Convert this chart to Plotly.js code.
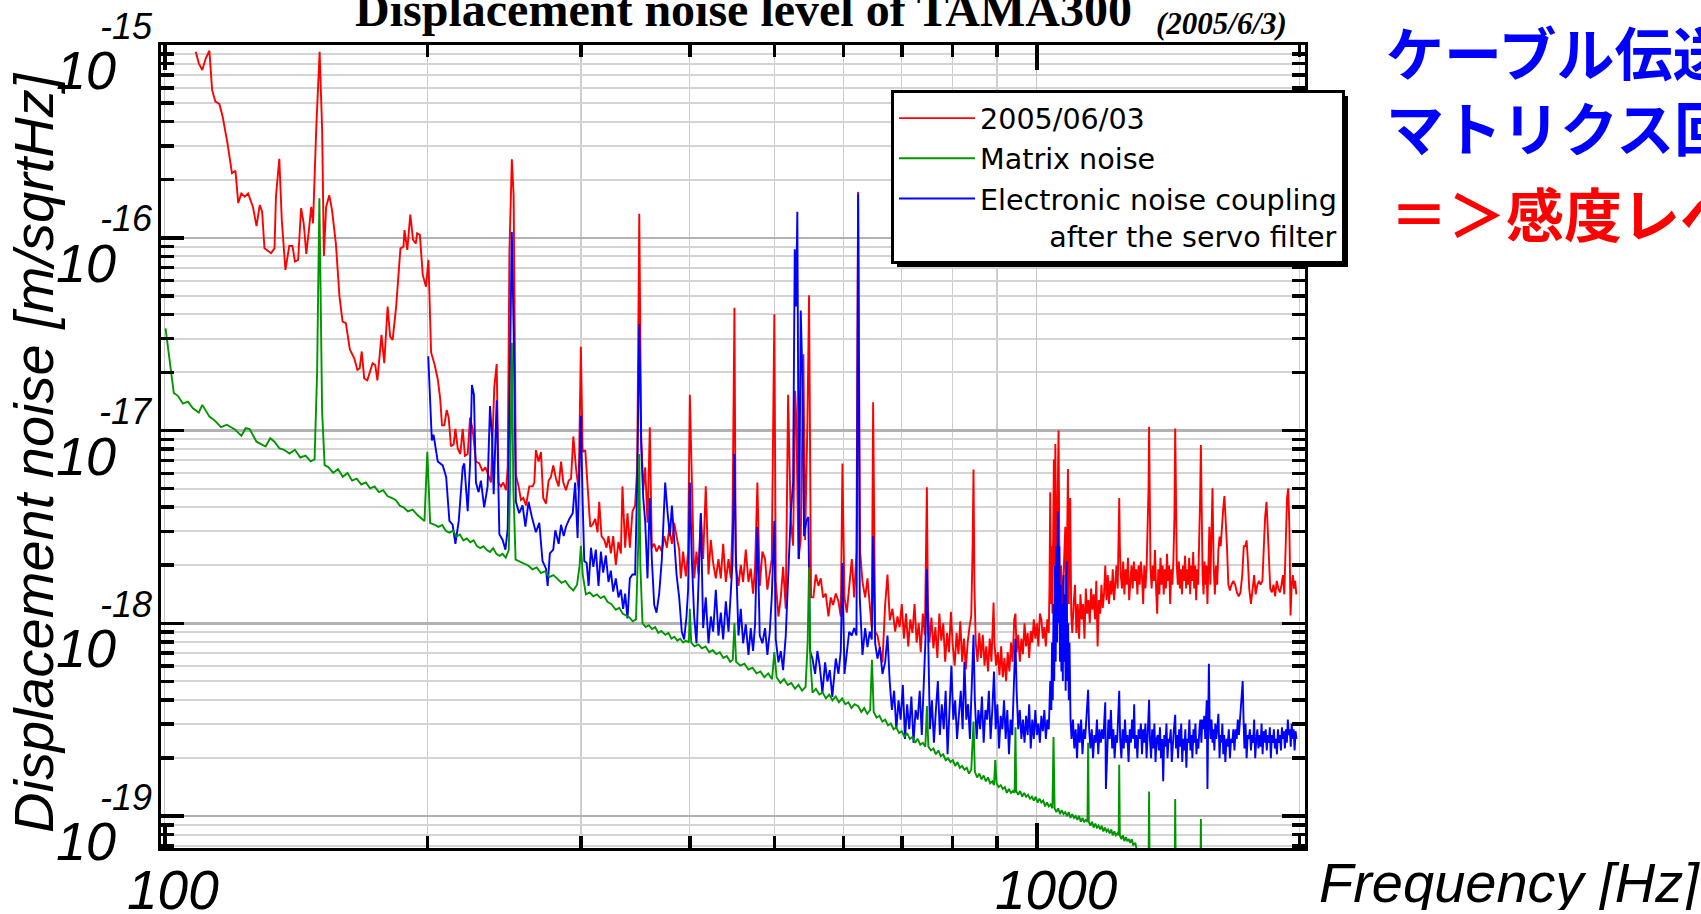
<!DOCTYPE html>
<html>
<head>
<meta charset="utf-8">
<script src="https://cdn.plot.ly/plotly-3.0.1.min.js"></script>
<style>
html,body{margin:0;padding:0;background:#ffffff;}
#chart{width:1701px;height:914px;}
</style>
</head>
<body>
<div id="chart"></div>
<script>
// ---------------- DATA (frequency [Hz], log10 of displacement noise [m/sqrtHz]) ----------------
const seriesNames = ["2005/06/03", "Matrix noise", "Electronic noise coupling"];

const redLow = [[108.5,-15.035],[109.4,-15.095],[110.4,-15.13],[111.4,-15.07],[112.5,-15.03],[113.3,-15.233],[114.3,-15.294],[115.5,-15.306],[116.5,-15.372],[118.0,-15.51],
[119.4,-15.665],[120.5,-15.652],[121.4,-15.82],[122.4,-15.77],[123.5,-15.787],[124.6,-15.77],[126.2,-15.84],[127.4,-15.94],[128.5,-15.83],[129.3,-15.865],
[130.1,-16.055],[132.4,-16.08],[133.6,-16.055],[134.1,-15.787],[135.3,-15.59],[136.2,-15.91],[137.5,-16.167],[138.9,-16.043],[140.1,-16.043],[141.0,-16.124],
[142.2,-16.115],[143.3,-15.847],[144.3,-15.925],[145.3,-16.084],[146.3,-15.96],[147.2,-15.84],[147.9,-15.925],[149.2,-15.42],[150.5,-15.035],[151.5,-15.44],
[152.2,-16.094],[153.1,-15.84],[154.4,-15.78],[155.5,-15.856],[157.1,-16.03],[158.6,-16.305],[159.9,-16.435],[161.3,-16.443],[163.0,-16.58],[164.9,-16.625],
[166.3,-16.686],[167.3,-16.677],[168.2,-16.59],[169.3,-16.73],[170.7,-16.74],[173.1,-16.651],[174.3,-16.66],[175.3,-16.74],[177.2,-16.504],[178.5,-16.651],
[180.1,-16.357],[181.3,-16.513],[182.5,-16.53],[184.2,-16.357],[186.3,-16.055],[187.8,-16.046],[188.3,-15.96],[189.7,-16.063],[191.2,-15.88],[192.6,-16.01],
[194.0,-16.03],[194.7,-15.977],[196.1,-15.985],[197.6,-16.193],[199.3,-16.254],[200.6,-16.115]];

const redMid = [[202.0,-16.595],[203.8,-16.655],[205.6,-16.734],[206.9,-16.834],[207.9,-16.973],[209.2,-16.973],[210.5,-16.893],[211.6,-16.933],[212.9,-17.082],[214.4,-17.072],
[215.4,-16.992],[216.7,-17.092],[218.2,-17.122],[219.6,-16.992],[220.9,-17.131],[222.5,-17.122],[223.9,-16.933],[225.4,-16.992],[227.4,-17.161],[229.4,-17.171],
[231.4,-17.211],[233.1,-17.191],[234.5,-17.221],[236.6,-17.27],[238.7,-16.774],[240.2,-16.655],[241.4,-17.27],[242.9,-17.29],[244.4,-17.27],[246.2,-17.31],
[247.3,-17.191],[248.4,-16.079],[250.0,-15.593],[251.2,-15.782],[252.7,-17.231],[254.5,-17.29],[256.1,-17.36],[257.7,-17.35],[259.5,-17.389],[261.8,-17.29],
[264.1,-17.29],[265.3,-17.27],[266.4,-17.102],[268.3,-17.161],[270.0,-17.112],[271.6,-17.35],[273.6,-17.379],[275.5,-17.26],[277.2,-17.241],[278.9,-17.181],
[280.9,-17.25],[282.9,-17.29],[284.7,-17.161],[286.4,-17.27],[288.4,-17.31],[290.5,-17.26],[292.3,-17.25],[294.1,-17.032],[296.1,-17.191],[298.2,-17.31],
[300.0,-16.566],[301.4,-17.112],[303.5,-17.102],[305.4,-17.27],[307.5,-17.499],[309.4,-17.489],[311.6,-17.459],[313.5,-17.528],[314.9,-17.37],[316.8,-17.548],
[319.1,-17.568],[321.0,-17.608],[322.7,-17.548],[324.7,-17.638],[326.7,-17.548],[329.0,-17.697],[331.3,-17.578],[333.4,-17.638],[334.8,-17.29],[337.2,-17.608],
[339.3,-17.429],[341.4,-17.608],[343.8,-17.419],[346.2,-17.389],[348.1,-17.191],[350.0,-15.875],[351.8,-17.032],[353.7,-17.31],[355.5,-17.191],[357.7,-17.479],
[359.9,-16.983],[361.8,-17.608],[364.1,-17.588],[366.3,-17.628],[368.9,-17.598],[371.5,-17.628],[373.8,-17.548],[376.5,-17.608],[378.8,-17.509],[381.5,-17.588],
[383.8,-17.479],[386.2,-17.548],[388.9,-17.618],[390.6,-17.767],[393.0,-17.628],[395.8,-17.757],[398.2,-17.628],[400.0,-16.814],[402.1,-17.27],[404.6,-17.767],
[407.1,-17.628],[409.2,-17.747],[411.8,-17.429],[414.3,-17.667],[417.2,-17.29],[420.2,-17.747],[422.8,-17.568],[425.4,-17.687],[428.4,-17.767],[431.4,-17.667],
[434.1,-17.767],[436.8,-17.588],[439.9,-17.786],[443.0,-17.667],[445.7,-17.767],[447.7,-17.469],[450.0,-16.363],[451.6,-17.707],[454.8,-17.806],[457.6,-17.697],
[460.4,-17.786],[463.7,-17.618],[467.0,-17.786],[469.8,-17.717],[472.7,-17.846],[475.2,-17.707],[478.1,-17.27],[481.1,-17.806],[484.5,-17.628],[487.9,-17.667],
[490.9,-17.826],[494.0,-17.747],[496.6,-17.667],[500.0,-16.397],[501.9,-17.786],[505.4,-17.965],[508.6,-17.866],[511.7,-17.707],[515.3,-17.925],[518.5,-16.814],
[522.2,-17.469],[525.4,-17.598],[528.2,-16.794],[530.0,-16.953],[532.8,-17.667],[536.1,-17.568],[539.9,-16.605],[542.3,-17.568],[545.6,-16.973],[548.0,-16.298],
[550.9,-17.866],[554.3,-17.866],[557.8,-17.747],[561.7,-17.806],[565.2,-17.767],[568.7,-17.866],[572.7,-17.846],[576.8,-17.965],[580.3,-17.866],[583.9,-17.905],
[588.1,-17.846],[592.2,-17.886],[595.9,-17.965],[598.5,-17.171],[601.7,-17.866],[605.4,-17.945],[609.2,-17.806],[613.5,-17.667],[617.3,-17.866],[621.1,-17.628],
[623.8,-15.762],[627.1,-17.628],[631.0,-17.786],[635.5,-17.866],[639.4,-17.767],[643.3,-17.925],[646.7,-18.025],[649.0,-16.853],[652.5,-18.044],[656.5,-18.064],
[660.6,-18.124],[665.2,-18.203],[669.9,-17.905],[674.1,-17.747],[678.2,-17.985],[683.0,-17.925],[687.9,-18.044],[692.1,-17.965]];

const redHigh = [[696,-18.02],[700,-17.9],[704,-18.08],[708,-17.95],[712,-18.12],[716,-17.98],[720,-18.05],[724,-17.9],[728,-18.1],[732,-18.0],
[736,-18.15],[740,-17.95],[744,-18.06],[746,-17.7],[748,-17.295],[750,-17.9],[753,-18.1],[757,-17.97],[761,-18.13],[765,-18.02],
[769,-18.18],[773,-17.95],[777,-18.09],[781,-18.0],[785,-18.2],[789,-18.05],[793,-18.15],[797,-17.94],[801,-18.12],[805,-18.22],
[809,-18.05],[813,-18.16],[817,-17.99],[821,-18.2],[825,-18.08],[829,-18.24],[833,-18.1],[837,-18.02],[841,-17.96],[844,-17.6],
[846,-17.202],[848,-17.8],[851,-18.1],[855,-18.2],[859,-18.05],[863,-18.18],[867,-18.06],[871,-18.22],[875,-18.12],[879,-18.25],
[883,-18.08],[887,-18.2],[890,-17.95],[892,-17.893],[894,-18.1],[898,-18.22],[902,-18.15],[906,-18.27],[910,-18.12],[914,-18.28],
[918,-18.18],[922,-18.3],[926,-18.15],[930,-18.25],[934,-18.1],[938,-18.2],[942,-17.98],[945,-17.95],[948,-18.15],[952,-18.06],
[956,-18.2],[960,-18.08],[964,-18.16],[968,-18.0],[972,-18.12],[976,-18.05],[980,-18.18],[984,-18.04],[988,-18.1],[992,-17.98],
[996,-18.08],[1000,-18.0],[1004,-18.12],[1008,-17.95],[1012,-17.98],[1016,-18.08],[1020,-18.02],[1024,-18.12],[1028,-17.98],[1032,-18.05],
[1034,-17.8],[1036,-17.32],[1038,-17.9],[1040,-17.6],[1042,-17.95],[1044,-17.5],[1046,-17.15],[1048,-17.7],[1050,-17.07],[1052,-17.6],
[1054,-17.85],[1056,-17.4],[1059,-17.0],[1061,-17.55],[1063,-17.9],[1066,-17.7],[1069,-17.95],[1072,-17.8],[1075,-17.6],[1078,-17.5],
[1080,-17.85],[1083,-17.6],[1085.6,-17.2],[1088,-17.9],[1090,-17.5],[1092,-17.35],[1095,-17.95],[1098,-18.05],[1102,-17.9],[1106,-17.8],
[1110,-18.05],[1114,-17.9],[1118,-18.08],[1122,-17.85],[1126,-17.98],[1130,-17.9],[1134,-18.08],[1138,-17.82],[1142,-17.95],[1146,-17.88],
[1150,-18.0],[1154,-17.82],[1158,-17.93],[1162,-17.85],[1166,-17.98],[1170,-17.78],[1174,-18.12],[1178,-17.88],[1182,-17.95],[1186,-17.8],
[1190,-17.92],[1194,-17.85],[1198,-17.7],[1202,-17.88],[1206,-17.75],[1210,-17.9],[1214,-17.78],[1218,-17.85],[1222,-17.72],[1226,-17.88],
[1230,-17.8],[1234,-17.7],[1238,-17.82],[1241,-17.6],[1243,-17.35],[1245,-17.6],[1248,-17.75],[1252,-17.82],[1256,-17.68],[1260,-17.85],
[1264,-17.72],[1268,-17.8],[1272,-17.66],[1276,-17.88],[1280,-17.75],[1284,-17.7],[1288,-17.82],[1292,-17.68],[1296,-17.78],[1300,-17.72],
[1304,-17.85],[1308,-17.7],[1312,-17.8],[1316,-17.68],[1320,-17.76],[1324,-17.9],[1328,-17.7],[1332,-17.82],[1336,-17.72],[1340,-17.5],
[1343,-17.3],[1345,-16.98],[1347,-17.35],[1350,-17.72],[1354,-17.82],[1358,-17.7],[1362,-17.78],[1366,-17.62],[1370,-17.82],[1374,-17.95],
[1378,-17.72],[1382,-17.85],[1386,-17.66],[1390,-17.8],[1394,-17.7],[1398,-17.85],[1402,-17.72],[1406,-17.82],[1410,-17.64],[1414,-17.78],
[1418,-17.7],[1422,-17.9],[1426,-17.72],[1430,-17.8],[1434,-17.68],[1438,-17.45],[1441,-16.99],[1444,-17.4],[1447,-17.7],[1451,-17.8],
[1455,-17.68],[1459,-17.82],[1463,-17.72],[1467,-17.85],[1471,-17.7],[1475,-17.78],[1479,-17.65],[1483,-17.82],[1487,-17.72],[1491,-17.8],
[1495,-17.66],[1499,-17.85],[1503,-17.7],[1507,-17.78],[1511,-17.63],[1515,-17.82],[1519,-17.7],[1523,-17.88],[1527,-17.72],[1531,-17.8],
[1535,-17.6],[1539,-17.35],[1542,-17.075],[1545,-17.45],[1549,-17.75],[1553,-17.85],[1557,-17.68],[1561,-17.8],[1565,-17.7],[1569,-17.9],
[1573,-17.75],[1577,-17.5],[1581,-17.8],[1585,-17.55],[1590,-17.3],[1595,-17.7],[1600,-17.85],[1605,-17.7],[1610,-17.8],[1615,-17.62],
[1620,-17.55],[1625,-17.6],[1630,-17.48],[1636,-17.4],[1641,-17.34],[1646,-17.45],[1652,-17.6],[1658,-17.8],[1665,-17.83],[1672,-17.8],
[1680,-17.78],[1688,-17.8],[1696,-17.84],[1704,-17.86],[1712,-17.84],[1720,-17.75],[1727,-17.6],[1734,-17.6],[1740,-17.57],[1746,-17.68],
[1752,-17.82],[1760,-17.9],[1768,-17.82],[1775,-17.75],[1782,-17.85],[1790,-17.8],[1798,-17.78],[1806,-17.8],[1814,-17.78],[1820,-17.6],
[1827,-17.45],[1834,-17.37],[1840,-17.5],[1846,-17.7],[1852,-17.82],[1860,-17.84],[1868,-17.8],[1876,-17.86],[1884,-17.78],[1892,-17.82],
[1900,-17.84],[1908,-17.8],[1915,-17.75],[1922,-17.85],[1930,-17.6],[1936,-17.35],[1942,-17.3],[1948,-17.5],[1954,-17.96],[1960,-17.8],
[1966,-17.75],[1972,-17.82],[1978,-17.78],[1984,-17.85]];

const greenLow = [[100.2,-16.47],[101.7,-16.686],[102.4,-16.805],[103.5,-16.82],[104.9,-16.86],[106.3,-16.85],[107.7,-16.885],[109.4,-16.907],[110.4,-16.867],[112.5,-16.928],
[113.9,-16.945],[116.0,-16.983],[117.8,-16.97],[120.2,-16.993],[122.4,-17.027],[123.8,-16.988],[125.1,-16.993],[127.4,-17.058],[130.5,-17.083],[132.1,-17.04],
[133.6,-17.058],[135.3,-17.092],[137,-17.1],[139,-17.12],[141,-17.1],[143,-17.14],[145,-17.13],[147,-17.16],[148.5,-17.15],[149.5,-16.7],
[150.4,-15.795],[151.5,-16.9],[152.5,-17.18],[154,-17.19],[156,-17.22],[158,-17.2],[160,-17.24],[162,-17.22],[164,-17.26],[166,-17.25],
[168,-17.28],[170,-17.27],[172,-17.3],[174,-17.29],[176,-17.32],[178,-17.31],[180,-17.34],[182,-17.35],[184,-17.36],[186,-17.39],
[188,-17.4],[190,-17.42],[192.4,-17.41],[195,-17.44],[198.5,-17.47],[200,-17.11],[201.5,-17.48]];

const greenMid = [[204,-17.49],[206,-17.5],[208,-17.49],[210,-17.52],[212,-17.53],[214,-17.52],[216,-17.55],[218,-17.54],[220,-17.57],[222,-17.56],
[224,-17.58],[226,-17.57],[228,-17.6],[230,-17.61],[232,-17.6],[234,-17.62],[236,-17.63],[238,-17.61],[240,-17.64],[242,-17.65],
[244,-17.64],[246,-17.66],[248,-17.62],[249,-17.2],[250,-16.545],[251,-17.3],[252.5,-17.67],[255,-17.68],[258,-17.69],[261,-17.7],
[264,-17.72],[267,-17.71],[270,-17.74],[273,-17.73],[276,-17.76],[279,-17.75],[282,-17.77],[285,-17.79],[288,-17.78],[291,-17.81],
[294,-17.83],[297,-17.8],[299,-17.7],[300,-17.598],[301.5,-17.75],[304,-17.85],[307,-17.84],[310,-17.86],[313,-17.85],[316,-17.87],
[319,-17.86],[322,-17.89],[325,-17.9],[329,-17.93],[332,-17.92],[335,-17.95],[338,-17.96],[341,-17.97],[344,-17.99],[347,-17.98],
[349,-17.6],[350,-17.122],[351,-17.7],[353,-18.0],[356,-18.02],[359,-18.01],[362,-18.03],[365,-18.02],[368,-18.05],[371,-18.04],
[375,-18.06],[378,-18.05],[381,-18.08],[384,-18.07],[387,-18.09],[390,-18.08],[393,-18.1],[396,-18.09],[399,-18.1],[400,-17.925],
[401.5,-18.1],[405,-18.12],[409,-18.11],[413,-18.13],[417,-18.12],[421,-18.15],[425,-18.14],[429,-18.16],[433,-18.15],[437,-18.18],
[441,-18.17],[445,-18.2],[448,-18.19],[450,-18.0],[452,-18.2],[457,-18.22],[462,-18.21],[467,-18.24],[472,-18.23],[477,-18.26],
[482,-18.25],[487,-18.28],[492,-18.26],[497,-18.29],[500,-18.15],[503,-18.28],[508,-18.31],[513,-18.29],[518,-18.32],[523,-18.31],
[528,-18.34],[533,-18.32],[538,-18.35],[543,-18.33],[546,-18.1],[548,-17.71],[550,-18.2],[553,-18.36],[558,-18.34],[563,-18.37],
[568,-18.36],[573,-18.39],[578,-18.37],[583,-18.4],[588,-18.38],[593,-18.41],[598,-18.39],[603,-18.42],[608,-18.41],[613,-18.44],
[618,-18.42],[624,-18.43],[629,-18.46],[634,-18.44],[639,-18.47],[644,-18.45],[647,-18.19],[650,-18.46],[655,-18.49],[660,-18.48],
[665,-18.51],[670,-18.5],[675,-18.53],[680,-18.52],[685,-18.55],[690,-18.54],[695,-18.57],[700,-18.56],[705,-18.59],[710,-18.57],
[715,-18.6],[720,-18.59],[725,-18.62],[730,-18.6],[735,-18.63],[740,-18.62],[745,-18.64],[748,-18.43],[751,-18.64],[756,-18.66],
[761,-18.65],[766,-18.68],[771,-18.66],[776,-18.69],[781,-18.68],[786,-18.71],[791,-18.7],[796,-18.72],[801,-18.71],[806,-18.74],
[811,-18.72],[816,-18.75],[821,-18.74],[826,-18.76],[831,-18.75],[836,-18.78],[841,-18.76],[846,-18.51],[849,-18.77],[854,-18.8],
[859,-18.78],[864,-18.81],[869,-18.79],[874,-18.82],[879,-18.8],[884,-18.83],[889,-18.82],[893,-18.84],[896,-18.71],[899,-18.83],
[904,-18.85],[909,-18.84],[914,-18.86],[919,-18.85],[924,-18.88],[929,-18.86],[934,-18.88],[939,-18.87],[943,-18.88],[945,-18.54]];

const greenHigh = [[947,-18.87],[952,-18.89],[957,-18.87],[962,-18.9],[967,-18.88],[972,-18.9],[977,-18.89],[982,-18.91],[987,-18.9],[992,-18.92],
[997,-18.9],[1002,-18.93],[1007,-18.91],[1012,-18.93],[1017,-18.92],[1022,-18.95],[1027,-18.93],[1032,-18.95],[1037,-18.94],[1042,-18.96],
[1045,-18.59],[1048,-18.96],[1053,-18.98],[1058,-18.96],[1063,-18.99],[1068,-18.97],[1073,-18.99],[1078,-18.98],[1083,-19.0],[1088,-18.98],
[1093,-19.01],[1098,-18.99],[1103,-19.01],[1108,-19.0],[1113,-19.02],[1118,-19.0],[1123,-19.03],[1128,-19.01],[1133,-19.03],[1138,-19.02],
[1143,-19.03],[1145,-18.62],[1147,-19.03],[1152,-19.05],[1157,-19.03],[1162,-19.06],[1167,-19.04],[1172,-19.06],[1177,-19.05],[1182,-19.07],
[1187,-19.05],[1192,-19.08],[1197,-19.06],[1202,-19.08],[1207,-19.07],[1212,-19.09],[1217,-19.07],[1222,-19.1],[1227,-19.08],[1232,-19.1],
[1237,-19.09],[1241,-19.1],[1243,-18.734],[1245,-19.1],[1250,-19.12],[1255,-19.1],[1260,-19.13],[1265,-19.11],[1270,-19.13],[1275,-19.12],
[1280,-19.14],[1285,-19.12],[1290,-19.15],[1297,-19.14],[1305,-19.2],[1315,-19.24],[1330,-19.26],[1343,-19.27],[1345,-18.873],[1347,-19.27],
[1370,-19.28],[1400,-19.29],[1439,-19.3],[1441,-18.912],[1443,-19.3],[1480,-19.31],[1520,-19.32],[1540,-19.33],[1542,-19.016],[1544,-19.33],
[1600,-19.34]];

const blueMid = [[200.5,-16.615],[202.4,-17.052],[203.3,-17.022],[205.6,-17.161],[208.3,-17.181],[210.2,-17.241],[212.0,-17.469],[213.8,-17.489],[215.4,-17.588],[217.3,-17.469],
[219.6,-17.191],[220.5,-17.171],[222.5,-17.419],[223.9,-17.171],[225.0,-16.764],[226.2,-16.814],[227.4,-17.27],[229.0,-17.32],[230.4,-17.26],[232.4,-17.399],
[234.5,-17.29],[236.0,-16.873],[237.3,-17.032],[238.3,-17.33],[240.2,-16.843],[241.9,-17.538],[244.0,-17.568],[245.8,-17.618],[247.3,-17.509],[248.8,-16.675],
[250.0,-15.97],[251.2,-16.476],[252.7,-17.37],[254.9,-17.429],[257.2,-17.389],[259.1,-17.499],[261.3,-17.37],[263.6,-17.449],[266.4,-17.528],[268.8,-17.479],
[271.1,-17.677],[273.6,-17.717],[274.8,-17.806],[276.4,-17.638],[278.9,-17.618],[280.4,-17.518],[282.9,-17.588],[284.7,-17.489],[286.7,-17.548],[288.4,-17.499],
[291.0,-17.459],[293.6,-17.429],[295.5,-17.27],[297.4,-17.558],[298.7,-17.27],[300.0,-16.923],[301.4,-17.37],[302.7,-17.677],[304.6,-17.687],[306.2,-17.806],
[308.1,-17.608],[310.0,-17.707],[312.1,-17.618],[314.3,-17.806],[316.3,-17.628],[318.2,-17.737],[320.4,-17.648],[322.7,-17.786],[324.7,-17.727],[326.7,-17.836],
[329.0,-17.767],[331.3,-17.866],[333.4,-17.826],[335.4,-17.925],[337.2,-17.846],[339.3,-17.975],[341.4,-17.767],[343.8,-17.747],[346.2,-17.747],[348.1,-17.27],
[350.0,-16.447],[351.8,-17.072],[353.7,-17.35],[355.5,-17.469],[357.7,-17.767],[359.9,-17.35],[361.8,-17.667],[364.1,-17.905],[366.3,-17.945],[368.9,-17.846],
[371.5,-17.667],[374.8,-17.27],[377.2,-17.429],[379.5,-17.548],[381.5,-17.389],[383.8,-17.588],[386.2,-17.747],[388.9,-17.866],[391.6,-18.044],[394.0,-18.084],
[396.5,-17.965],[398.2,-17.826],[400.0,-17.27],[402.1,-17.667],[404.6,-17.965],[407.1,-18.104],[409.2,-17.806],[411.8,-17.429],[414.3,-18.025],[417.2,-17.866],
[420.2,-18.104],[422.8,-17.965],[425.4,-18.044],[428.4,-17.826],[431.4,-18.064],[434.1,-17.945],[436.8,-18.084],[439.9,-17.886],[443.0,-18.044],[445.7,-17.866],
[447.7,-17.687],[450.0,-17.122],[451.6,-17.628],[454.8,-18.064],[457.6,-17.925],[460.4,-18.104],[463.7,-18.005],[467.0,-18.164],[469.8,-18.025],[472.7,-18.144],
[475.2,-18.005],[478.1,-17.499],[481.1,-18.064],[484.5,-18.104],[487.9,-18.025],[490.9,-18.164],[494.0,-18.044],[496.6,-17.866],[500.0,-17.469],[501.9,-18.084],
[505.4,-18.203],[508.6,-18.144],[511.7,-18.243],[515.3,-18.064],[518.5,-17.767],[522.2,-17.429],[525.4,-17.27],[527.7,-16.06],[529.5,-16.357],[531.3,-15.865],
[533.6,-17.667],[536.1,-16.377],[538.4,-16.714],[540.8,-17.548],[544.1,-17.469],[547.0,-17.449],[549.4,-18.144],[552.9,-18.183],[556.8,-18.263],[560.2,-18.144],
[563.7,-18.223],[567.7,-18.362],[571.7,-18.203],[575.2,-18.302],[578.8,-18.243],[582.7,-18.382],[588.1,-18.183],[592.2,-18.263],[595.9,-18.144],[598.5,-17.687],
[601.7,-18.263],[605.4,-18.164],[609.2,-18.044],[613.5,-18.064],[617.3,-18.025],[621.1,-18.064],[623.8,-15.772],[626.5,-17.866],[631.0,-18.164],[635.5,-18.025],
[639.4,-18.124],[643.3,-18.044],[646.7,-18.084],[649.0,-17.548],[652.5,-18.104],[656.5,-18.183],[660.6,-18.124],[665.2,-18.263],[669.9,-18.203],[674.1,-18.064]];

const blueHigh = [[678,-18.3],[682,-18.45],[686,-18.35],[690,-18.55],[694,-18.4],[698,-18.5],[702,-18.32],[706,-18.6],[710,-18.42],[714,-18.55],
[718,-18.38],[722,-18.62],[726,-18.45],[730,-18.5],[734,-18.35],[738,-18.58],[742,-18.3],[745,-18.1],[748,-17.72],[751,-18.25],
[754,-18.55],[758,-18.4],[762,-18.62],[766,-18.45],[770,-18.3],[774,-18.58],[778,-18.42],[782,-18.55],[786,-18.35],[790,-18.68],
[794,-18.48],[798,-18.22],[802,-18.5],[806,-18.4],[810,-18.6],[814,-18.45],[818,-18.35],[822,-18.55],[826,-18.2],[830,-18.5],
[834,-18.42],[838,-18.6],[842,-18.3],[846,-18.06],[849,-18.4],[853,-18.6],[857,-18.45],[861,-18.55],[865,-18.38],[869,-18.62],
[873,-18.45],[877,-18.5],[881,-18.35],[885,-18.6],[889,-18.45],[893,-18.25],[897,-18.55],[901,-18.42],[905,-18.65],[909,-18.48],
[913,-18.55],[917,-18.4],[921,-18.6],[925,-18.45],[929,-18.68],[933,-18.5],[937,-18.58],[941,-18.3],[945,-18.08],[948,-18.35],
[952,-18.55],[956,-18.45],[960,-18.6],[964,-18.5],[968,-18.62],[972,-18.48],[976,-18.58],[980,-18.42],[984,-18.65],[988,-18.5],
[992,-18.6],[996,-18.45],[1000,-18.58],[1004,-18.52],[1008,-18.62],[1012,-18.48],[1016,-18.56],[1020,-18.45],[1024,-18.6],[1028,-18.5],
[1032,-18.55],[1036,-18.3],[1039,-18.45],[1041,-18.1],[1043,-18.4],[1045,-17.9],[1047,-18.3],[1049,-17.7],[1051,-18.2],[1053,-17.6],
[1055,-18.1],[1057,-17.42],[1059,-18.0],[1061,-17.6],[1063,-18.2],[1065,-17.8],[1067,-18.25],[1069,-17.9],[1071,-18.3],[1073,-17.75],
[1075,-18.2],[1077,-17.85],[1079,-18.35],[1082,-17.68],[1084,-18.3],[1086,-18.0],[1088,-18.4],[1090,-18.1],[1093,-18.5],[1096,-18.6],
[1100,-18.5],[1104,-18.65],[1108,-18.55],[1112,-18.7],[1116,-18.52],[1120,-18.62],[1124,-18.5],[1128,-18.68],[1132,-18.55],[1136,-18.6],
[1140,-18.5],[1143,-18.4],[1145,-18.345],[1148,-18.55],[1152,-18.65],[1156,-18.55],[1160,-18.7],[1164,-18.58],[1168,-18.62],[1172,-18.5],
[1176,-18.68],[1180,-18.55],[1184,-18.62],[1188,-18.55],[1192,-18.6],[1195,-18.5],[1198,-18.41],[1200,-18.86],[1204,-18.62],[1208,-18.5],
[1212,-18.6],[1216,-18.45],[1220,-18.65],[1224,-18.55],[1228,-18.7],[1232,-18.58],[1236,-18.62],[1240,-18.5],[1243,-18.35],[1246,-18.6],
[1250,-18.7],[1254,-18.55],[1258,-18.65],[1262,-18.5],[1266,-18.62],[1270,-18.58],[1274,-18.72],[1278,-18.55],[1282,-18.62],[1286,-18.5],
[1290,-18.6],[1293,-18.42],[1296,-18.65],[1300,-18.58],[1304,-18.7],[1308,-18.55],[1312,-18.6],[1316,-18.52],[1320,-18.68],[1324,-18.55],
[1328,-18.62],[1332,-18.52],[1336,-18.7],[1340,-18.58],[1343,-18.5],[1345,-18.397],[1348,-18.6],[1352,-18.7],[1356,-18.55],[1360,-18.65],
[1364,-18.52],[1368,-18.72],[1372,-18.6],[1376,-18.58],[1380,-18.66],[1384,-18.54],[1388,-18.7],[1392,-18.6],[1396,-18.82],[1400,-18.58],
[1404,-18.64],[1408,-18.52],[1412,-18.7],[1416,-18.6],[1420,-18.62],[1424,-18.55],[1428,-18.72],[1432,-18.6],[1436,-18.55],[1441,-18.475],
[1444,-18.65],[1448,-18.58],[1452,-18.7],[1456,-18.55],[1460,-18.64],[1464,-18.52],[1468,-18.72],[1472,-18.6],[1476,-18.66],[1480,-18.55],
[1484,-18.75],[1488,-18.6],[1492,-18.62],[1496,-18.5],[1500,-18.66],[1504,-18.58],[1508,-18.7],[1512,-18.55],[1516,-18.62],[1520,-18.52],
[1524,-18.68],[1528,-18.6],[1532,-18.65],[1536,-18.55],[1540,-18.5],[1544,-18.62],[1548,-18.5],[1552,-18.55],[1556,-18.48],[1560,-18.6],
[1564,-18.45],[1566,-18.4],[1569,-18.86],[1572,-18.45],[1575,-18.21],[1578,-18.5],[1582,-18.6],[1586,-18.5],[1590,-18.62],[1594,-18.55],
[1598,-18.66],[1602,-18.52],[1606,-18.6],[1610,-18.55],[1615,-18.47],[1620,-18.7],[1624,-18.58],[1628,-18.62],[1632,-18.52],[1636,-18.68],
[1640,-18.58],[1645,-18.72],[1650,-18.6],[1655,-18.64],[1660,-18.55],[1665,-18.7],[1670,-18.6],[1675,-18.62],[1680,-18.55],[1685,-18.66],
[1690,-18.55],[1695,-18.6],[1700,-18.5],[1705,-18.58],[1710,-18.5],[1715,-18.45],[1722,-18.3],[1726,-18.5],[1730,-18.65],[1735,-18.52],
[1740,-18.7],[1745,-18.58],[1750,-18.6],[1755,-18.55],[1760,-18.66],[1765,-18.58],[1770,-18.62],[1775,-18.5],[1780,-18.7],[1785,-18.6],
[1790,-18.55],[1795,-18.65],[1800,-18.58],[1805,-18.64],[1810,-18.52],[1815,-18.68],[1820,-18.56],[1825,-18.62],[1830,-18.55],[1835,-18.66],
[1840,-18.58],[1845,-18.62],[1850,-18.54],[1855,-18.7],[1860,-18.58],[1865,-18.62],[1870,-18.55],[1875,-18.65],[1880,-18.6],[1885,-18.68],
[1890,-18.55],[1895,-18.62],[1900,-18.58],[1905,-18.66],[1910,-18.54],[1915,-18.6],[1920,-18.56],[1925,-18.65],[1930,-18.55],[1935,-18.62],
[1940,-18.5],[1945,-18.58],[1950,-18.55],[1955,-18.64],[1960,-18.52],[1965,-18.6],[1970,-18.55],[1975,-18.66],[1980,-18.56],[1985,-18.6]];

const xTickValues = [100, 1000];
const xTickLabels = ["100", "1000"];
const yDecadeExponents = [-19, -18, -17, -16, -15];
const titleText = "Displacement noise level of TAMA300";
const dateText = "(2005/6/3)";
const noteBlue = ["ケーブル伝送", "マトリクス回路"];
const noteRed = "＝＞感度レベル";

// ---------------- BUILD ----------------
const W = 1701, H = 914;
const L = 161, R = 1305, T = 45, B = 848;
const X_RANGE = [Math.log10(99), Math.log10(2030)];
const px = x => (x - L) / (R - L);
const py = y => (B - y) / (B - T);

function toXY(parts) {
  const all = [].concat(...parts);
  return { x: all.map(p => p[0]), y: all.map(p => Math.pow(10, p[1])) };
}
const red = toXY([redLow, redMid, redHigh]);
const green = toXY([greenLow, greenMid, greenHigh]);
const blue = toXY([blueMid, blueHigh]);

const nb = "\u00a0";
const LW = 1.9;
const traces = [
  { x: red.x, y: red.y, type: "scatter", mode: "lines", name: seriesNames[0], legendrank: 1,
    line: { color: "#ff0000", width: LW } },
  { x: blue.x, y: blue.y, type: "scatter", mode: "lines",
    name: seriesNames[2] + "<br>" + nb.repeat(7) + "\u2009after the servo filter", legendrank: 3,
    line: { color: "#0000ff", width: LW } },
  { x: green.x, y: green.y, type: "scatter", mode: "lines", name: seriesNames[1], legendrank: 2,
    line: { color: "#009600", width: LW } }
];

const xMinor = [200,300,400,500,600,700,800,900,2000];
const yMinor = [];
for (let d = -20; d <= -16; d++) for (let m = 2; m <= 9; m++) {
  const v = m * Math.pow(10, d);
  if (Math.log10(v) > -19.166) yMinor.push(v);
}

const annotations = [];
// y tick labels: 10 with raised exponent
yDecadeExponents.forEach(e => {
  annotations.push({ xref: "paper", yref: "y", x: px(86), y: e, yshift: -25, text: "10",
    showarrow: false, xanchor: "center", yanchor: "middle",
    font: { family: "Liberation Sans", size: 54, style: "italic", color: "#000" } });
  annotations.push({ xref: "paper", yref: "y", x: px(126), y: e, yshift: 19, text: String(e),
    showarrow: false, xanchor: "center", yanchor: "middle",
    font: { family: "Liberation Sans", size: 36, style: "italic", color: "#000" } });
});
// x tick labels
const xLabelShift = [8, 20];
xTickValues.forEach((v, i) => {
  annotations.push({ xref: "x", yref: "paper", x: Math.log10(v), y: py(890), xshift: xLabelShift[i],
    text: xTickLabels[i], showarrow: false, xanchor: "center", yanchor: "middle", height: 44, borderpad: 0,
    font: { family: "Liberation Sans", size: 55, style: "italic", color: "#000" } });
});
annotations.push({ xref: "paper", yref: "paper", x: px(33), y: py(453), text: "Displacement noise [m/sqrtHz]",
  textangle: -90, showarrow: false, xanchor: "center", yanchor: "middle",
  font: { family: "Liberation Sans", size: 56, style: "italic", color: "#000" } });
annotations.push({ xref: "paper", yref: "paper", x: px(1318), y: py(882), text: "Frequency [Hz]",
  showarrow: false, xanchor: "left", yanchor: "middle", height: 56, borderpad: 0,
  font: { family: "Liberation Sans", size: 56, style: "italic", color: "#000" } });
annotations.push({ xref: "paper", yref: "paper", x: px(1221), y: py(24), text: "<b><i>" + dateText + "</i></b>",
  showarrow: false, xanchor: "center", yanchor: "middle",
  font: { family: "Liberation Serif", size: 31, color: "#000" } });
// Japanese notes (cut by the right edge of the page, as in the original slide)
annotations.push({ xref: "paper", yref: "paper", x: px(1385), y: py(88.5), text: noteBlue.join("<br>"),
  showarrow: false, xanchor: "left", yanchor: "middle", align: "left", borderpad: 0,
  font: { family: "Noto Sans CJK JP", size: 58, weight: 700, color: "#0000ff" } });
annotations.push({ xref: "paper", yref: "paper", x: px(1389), y: py(212), text: noteRed,
  showarrow: false, xanchor: "left", yanchor: "middle", height: 66, borderpad: 0,
  font: { family: "Noto Sans CJK JP", size: 58, weight: 700, color: "#ff0000" } });

const LEG_X = 891, LEG_Y = 90;
const layout = {
  width: W, height: H,
  margin: { l: L, r: W - R, t: T, b: H - B, pad: 0 },
  paper_bgcolor: "#ffffff", plot_bgcolor: "#ffffff",
  font: { family: "Liberation Sans", color: "#000" },
  title: { text: "<b>" + titleText + "</b>", font: { family: "Liberation Serif", size: 48, color: "#000" },
    xref: "container", yref: "container", x: 743.5 / W, xanchor: "center", y: 1 - 9 / H, yanchor: "middle" },
  showlegend: true,
  legend: { x: px(LEG_X), y: py(LEG_Y), xanchor: "left", yanchor: "top", bgcolor: "#ffffff",
    bordercolor: "#000", borderwidth: 3, font: { family: "DejaVu Sans", size: 28.6, color: "#000" },
    itemwidth: 76, valign: "top", tracegroupgap: 0 },
  hovermode: false,
  xaxis: { type: "log", range: X_RANGE, showline: true, linewidth: 3, linecolor: "#000",
    mirror: "allticks", ticks: "inside", ticklen: 25, tickwidth: 3.5, tickcolor: "#000",
    tickmode: "array", tickvals: xTickValues, ticktext: xTickLabels, showticklabels: false,
    showgrid: true, gridcolor: "#c6c6c6", gridwidth: 1.3, zeroline: false,
    minor: { tickmode: "array", tickvals: xMinor, ticks: "inside", ticklen: 12, tickwidth: 3.5, tickcolor: "#000",
      showgrid: true, gridcolor: "#cdcdcd", gridwidth: 1.3 } },
  yaxis: { type: "log", range: [-19.166, -15], showline: true, linewidth: 3, linecolor: "#000",
    mirror: "allticks", ticks: "inside", ticklen: 23, tickwidth: 3.5, tickcolor: "#000",
    tickmode: "array", tickvals: yDecadeExponents.map(e => Math.pow(10, e)), showticklabels: false,
    showgrid: true, gridcolor: "#b2b2b2", gridwidth: 2.5, zeroline: false,
    minor: { tickmode: "array", tickvals: yMinor, ticks: "inside", ticklen: 13, tickwidth: 3.5, tickcolor: "#000",
      showgrid: true, gridcolor: "#d4d4d4", gridwidth: 2 } },
  annotations: annotations
};

Plotly.newPlot("chart", traces, layout, { staticPlot: true, displayModeBar: false }).then(gd => {
  // drop shadow behind the legend box, sized from the drawn legend
  const bg = gd.querySelector(".legend rect.bg");
  if (!bg) return;
  const w = parseFloat(bg.getAttribute("width")), h = parseFloat(bg.getAttribute("height"));
  const off = 6;
  return Plotly.relayout(gd, { shapes: [{ type: "rect", xref: "paper", yref: "paper",
    x0: px(LEG_X + off), x1: px(LEG_X + w + off), y0: py(LEG_Y + h + off), y1: py(LEG_Y + off),
    fillcolor: "#000", line: { width: 0 }, layer: "above" }] });
});
</script>
</body>
</html>
